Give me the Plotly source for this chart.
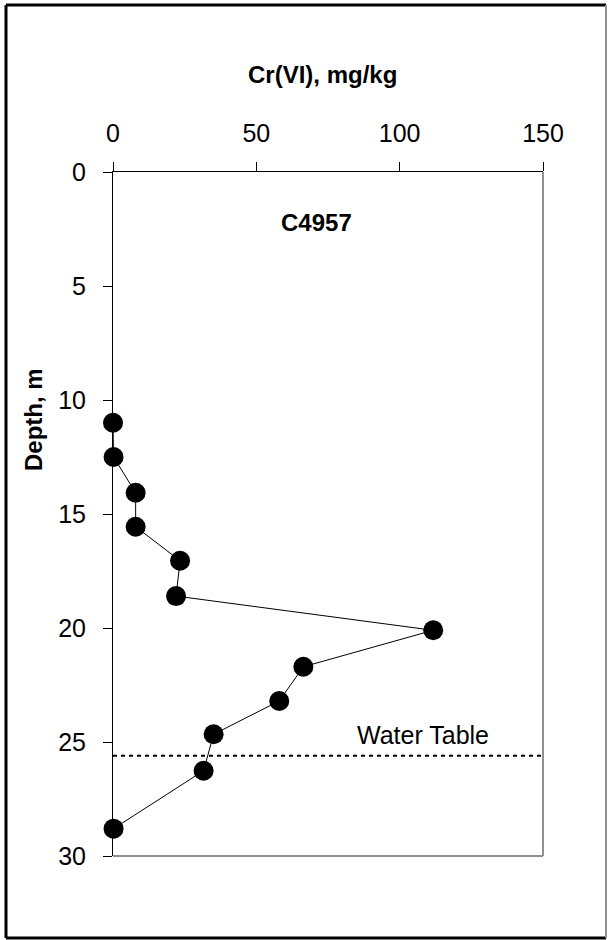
import plotly.graph_objects as go

cr_vi = [0, 0.2, 7.9, 7.9, 23.4, 22, 111.7, 66.4, 58, 35.1, 31.6, 0.2]
depth = [11.0, 12.5, 14.07, 15.56, 17.05, 18.6, 20.1, 21.7, 23.2, 24.66, 26.26, 28.8]
water_table_depth = 25.6
x_ticks = [0, 50, 100, 150]
y_ticks = [0, 5, 10, 15, 20, 25, 30]
FONT = "Liberation Sans, Arial, sans-serif"

fig = go.Figure()
fig.add_trace(go.Scatter(
    x=[0, 150], y=[water_table_depth, water_table_depth], mode="lines",
    line=dict(color="black", width=2, dash="4px,4px"), showlegend=False, hoverinfo="skip"))
fig.add_trace(go.Scatter(
    x=cr_vi, y=depth, mode="lines+markers", cliponaxis=False,
    line=dict(color="black", width=1),
    marker=dict(color="black", size=20, line=dict(width=0)),
    showlegend=False))

fig.update_layout(
    width=608, height=940,
    margin=dict(l=113, r=65, t=172, b=84),
    paper_bgcolor="white", plot_bgcolor="white",
    font=dict(family=FONT, color="black", size=25),
    xaxis=dict(side="top", range=[0, 150], tickvals=x_ticks, ticks="outside", ticklen=9,
               tickcolor="black", showline=True, linecolor="black", linewidth=1,
               ticklabelstandoff=10,
               showgrid=False, zeroline=False, tickfont=dict(size=25)),
    yaxis=dict(range=[30, 0], tickvals=y_ticks, ticks="outside", ticklen=9,
               tickcolor="black", showline=True, linecolor="black", linewidth=1,
               ticklabelstandoff=12,
               showgrid=False, zeroline=False, tickfont=dict(size=25)),
    annotations=[
        dict(text="<b>Cr(VI), mg/kg</b>", xref="paper", yref="paper", x=0.488, y=(856-75)/684,
             showarrow=False, font=dict(size=24), xanchor="center", yanchor="middle"),
        dict(text="<b>Depth, m</b>", xref="paper", yref="paper", x=(33-113)/430, y=(856-420)/684,
             showarrow=False, font=dict(size=24), textangle=-90, xanchor="center", yanchor="middle"),
        dict(text="<b>C4957</b>", xref="x", yref="y", x=71, y=2.2,
             showarrow=False, font=dict(size=24), xanchor="center", yanchor="middle"),
        dict(text="Water Table", xref="x", yref="y", x=108, y=24.7,
             showarrow=False, font=dict(size=25), xanchor="center", yanchor="middle"),
    ],
    shapes=[
        dict(type="line", xref="paper", yref="paper", x0=1, x1=1, y0=0, y1=1,
             line=dict(color="#909090", width=2)),
        dict(type="line", xref="paper", yref="paper", x0=0, x1=1, y0=0, y1=0,
             line=dict(color="#909090", width=2)),
        dict(type="line", xref="paper", yref="paper", x0=(6-113)/430, x1=(6-113)/430,
             y0=(856-938)/684, y1=(856-5)/684, line=dict(color="black", width=3)),
        dict(type="line", xref="paper", yref="paper", x0=(6-113)/430, x1=(606-113)/430,
             y0=(856-5)/684, y1=(856-5)/684, line=dict(color="black", width=3)),
        dict(type="line", xref="paper", yref="paper", x0=(6-113)/430, x1=(606-113)/430,
             y0=(856-938)/684, y1=(856-938)/684, line=dict(color="black", width=3)),
        dict(type="line", xref="paper", yref="paper", x0=(606-113)/430, x1=(606-113)/430,
             y0=(856-938)/684, y1=(856-5)/684, line=dict(color="#909090", width=2)),
    ],
)
fig.write_html("out.html")
